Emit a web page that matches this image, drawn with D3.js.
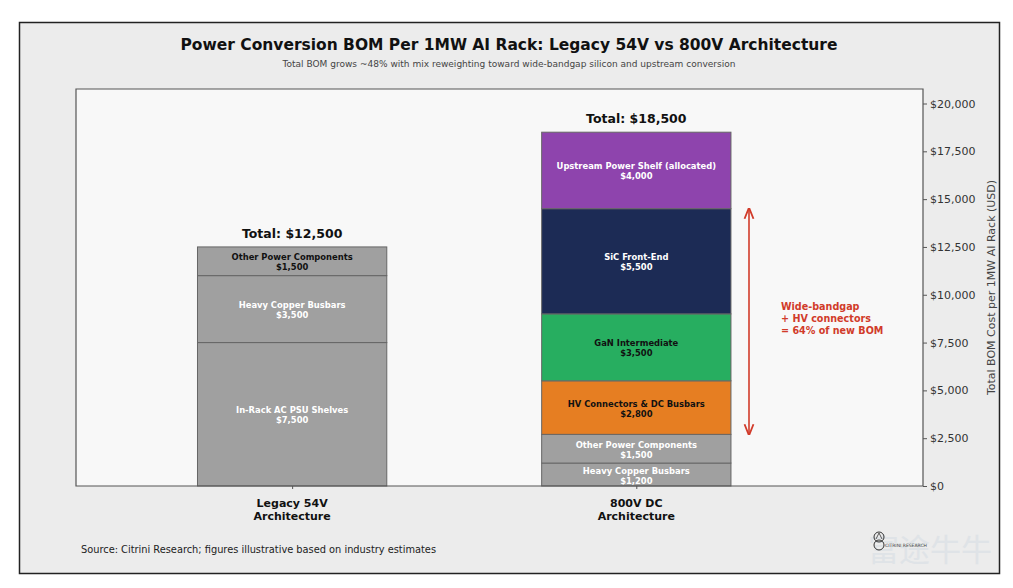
<!DOCTYPE html>
<html><head><meta charset="utf-8">
<script src="https://cdn.jsdelivr.net/npm/d3@7"></script>
<style>
html,body{margin:0;padding:0;background:#fff;}
svg{display:block;}
text{font-family:"DejaVu Sans",sans-serif;}
</style></head>
<body><svg id="c" width="1013" height="588"></svg>
<script>
// ---- data ----
const categories = ["Legacy 54V\nArchitecture", "800V DC\nArchitecture"];
const legacyNames  = ["In-Rack AC PSU Shelves", "Heavy Copper Busbars", "Other Power Components"];
const legacyValues = [7500, 3500, 1500];
const newNames  = ["Heavy Copper Busbars", "Other Power Components", "HV Connectors & DC Busbars", "GaN Intermediate", "SiC Front-End", "Upstream Power Shelf (allocated)"];
const newValues = [1200, 1500, 2800, 3500, 5500, 4000];
const totals = [12500, 18500];
const yTicks = [0, 2500, 5000, 7500, 10000, 12500, 15000, 17500, 20000];
const annotationLines = ["Wide-bandgap", "+ HV connectors", "= 64% of new BOM"];

const legacyColors = ["#a0a0a0", "#a0a0a0", "#a0a0a0"];
const legacyText   = ["#ffffff", "#ffffff", "#111111"];
const newColors = ["#a0a0a0", "#a0a0a0", "#e67e22", "#27ae60", "#1c2b55", "#8e44ad"];
const newText   = ["#ffffff", "#ffffff", "#111111", "#111111", "#ffffff", "#ffffff"];

const svg = d3.select("#c");
// figure frame
svg.append("rect").attr("x",19.5).attr("y",22.5).attr("width",980).attr("height",551)
  .attr("fill","#ececec").attr("stroke","#222").attr("stroke-width",1.5);

const plot = {left:76, right:923, top:89, bottom:486};
svg.append("rect").attr("x",plot.left).attr("y",plot.top).attr("width",plot.right-plot.left).attr("height",plot.bottom-plot.top)
  .attr("fill","#f8f8f8");

const x = d3.scaleLinear().domain([-0.628, 1.833]).range([plot.left, plot.right]);
const y = d3.scaleLinear().domain([0, 20000]).range([plot.bottom, 103.5]);
const barW = x(0.55) - x(0);

// watermark (behind)
svg.append("text").attr("x",868).attr("y",561).attr("font-size",31).attr("fill","#d3dbe3").attr("opacity",0.5)
  .style("font-family","Noto Sans CJK SC").text("富途牛牛");

// title
svg.append("text").attr("x",509).attr("y",50).attr("text-anchor","middle")
  .attr("font-size",16.5).attr("font-weight","bold").attr("fill","#111")
  .attr("textLength",657).attr("lengthAdjust","spacingAndGlyphs")
  .text("Power Conversion BOM Per 1MW AI Rack: Legacy 54V vs 800V Architecture");
svg.append("text").attr("x",509).attr("y",67).attr("text-anchor","middle")
  .attr("font-size",9.5).attr("fill","#444")
  .attr("textLength",453).attr("lengthAdjust","spacingAndGlyphs")
  .text("Total BOM grows ~48% with mix reweighting toward wide-bandgap silicon and upstream conversion");

function stack(names, values, colors, tcols, xi){
  let cum = 0;
  const segs = values.map((v,i)=>{const s={name:names[i], v, y0:cum, y1:cum+v, c:colors[i], t:tcols[i]}; cum+=v; return s;});
  const g = svg.append("g");
  g.selectAll("rect").data(segs).join("rect")
    .attr("x", x(xi)-barW/2).attr("width", barW)
    .attr("y", d=>y(d.y1)).attr("height", d=>y(d.y0)-y(d.y1))
    .attr("fill", d=>d.c).attr("stroke","#666").attr("stroke-width",1);
  const fmt = d3.format(",");
  segs.forEach(d=>{
    const cy = (y(d.y0)+y(d.y1))/2;
    const t = g.append("text").attr("x", x(xi)).attr("text-anchor","middle")
      .attr("font-size",8.4).attr("font-weight","bold").attr("fill", d.t);
    t.append("tspan").attr("x", x(xi)).attr("y", cy-1).text(d.name);
    t.append("tspan").attr("x", x(xi)).attr("y", cy+9).text("$"+fmt(d.v));
  });
  return cum;
}
stack(legacyNames, legacyValues, legacyColors, legacyText, 0);
stack(newNames, newValues, newColors, newText, 1);

// totals
totals.forEach((t,i)=>{
  const top = i===0 ? d3.sum(legacyValues) : d3.sum(newValues);
  svg.append("text").attr("x", x(i)).attr("y", y(top)-9).attr("text-anchor","middle")
    .attr("font-size",12.5).attr("font-weight","bold").attr("fill","#111")
    .text("Total: $"+d3.format(",")(t));
});

// spines
svg.append("path").attr("d",`M${plot.left},${plot.bottom}V${plot.top}H${plot.right}V${plot.bottom}Z`)
  .attr("fill","none").attr("stroke","#555").attr("stroke-width",1.2);

// right axis
const yAxis = d3.axisRight(y).tickValues(yTicks).tickSize(4).tickPadding(3)
  .tickFormat(d=>"$"+d3.format(",")(d));
const ga = svg.append("g").attr("transform",`translate(${plot.right},0)`).call(yAxis);
ga.select(".domain").remove();
ga.selectAll("line").attr("stroke","#555");
ga.selectAll("text").attr("font-size",11).attr("fill","#333").style("font-family","DejaVu Sans");
svg.append("text").attr("transform",`translate(995,${(plot.top+plot.bottom)/2}) rotate(-90)`)
  .attr("text-anchor","middle").attr("font-size",11).attr("fill","#444")
  .text("Total BOM Cost per 1MW AI Rack (USD)");

// x axis labels
const xa = d3.axisBottom(x).tickValues([0,1]).tickSize(3).tickFormat("");
const gx = svg.append("g").attr("transform",`translate(0,${plot.bottom})`).call(xa);
gx.select(".domain").remove();
gx.selectAll("line").attr("stroke","#555");
categories.forEach((c,i)=>{
  const lines = c.split("\n");
  const t = svg.append("text").attr("text-anchor","middle").attr("font-size",11).attr("font-weight","bold").attr("fill","#111");
  lines.forEach((l,j)=> t.append("tspan").attr("x",x(i)).attr("y",507+j*13).text(l));
});

// annotation arrow
const arrowTop = d3.sum(newValues.slice(0,5));
const arrowBot = d3.sum(newValues.slice(0,2));
const defs = svg.append("defs");
defs.append("marker").attr("id","ah").attr("viewBox","0 0 10 10").attr("refX",9).attr("refY",5)
  .attr("markerWidth",7).attr("markerHeight",7).attr("orient","auto-start-reverse")
  .append("path").attr("d","M0,1 L10,5 L0,9").attr("fill","none").attr("stroke","#d13b2a").attr("stroke-width",1.6);
svg.append("line").attr("x1",749).attr("x2",749).attr("y1",y(arrowTop)).attr("y2",y(arrowBot))
  .attr("stroke","#d13b2a").attr("stroke-width",1.6)
  .attr("marker-start","url(#ah)").attr("marker-end","url(#ah)");
const at = svg.append("text").attr("font-size",9.6).attr("font-weight","bold").attr("fill","#d13b2a");
annotationLines.forEach((l,j)=> at.append("tspan").attr("x",781).attr("y",310+j*12).text(l));

// source
svg.append("text").attr("x",81).attr("y",553).attr("font-size",10.5).attr("fill","#222")
  .attr("textLength",355).attr("lengthAdjust","spacingAndGlyphs")
  .text("Source: Citrini Research; figures illustrative based on industry estimates");

// logo
svg.append("circle").attr("cx",879).attr("cy",537).attr("r",5).attr("fill","none").attr("stroke","#333").attr("stroke-width",1);
svg.append("circle").attr("cx",879).attr("cy",545).attr("r",5).attr("fill","none").attr("stroke","#333").attr("stroke-width",1);
svg.append("path").attr("d","M876,539 L879,533 L882,539").attr("fill","none").attr("stroke","#333").attr("stroke-width",0.8);
svg.append("text").attr("x",885).attr("y",547).attr("font-size",4.5).attr("fill","#444").text("CITRINI RESEARCH");
</script></body></html>
